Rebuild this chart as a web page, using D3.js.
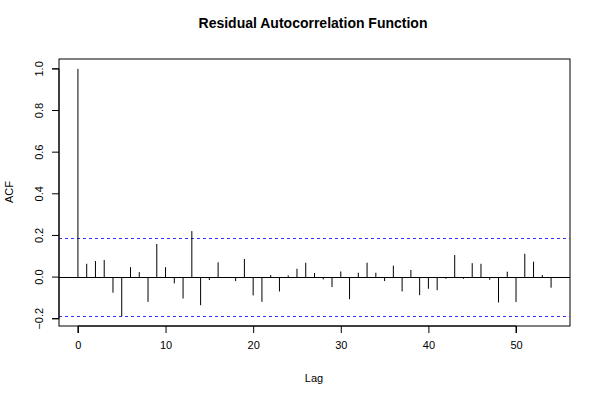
<!DOCTYPE html>
<html><head><meta charset="utf-8">
<script src="https://cdn.jsdelivr.net/npm/d3@7"></script>
<style>body{margin:0;background:#fff}svg{display:block}text{font-family:"Liberation Sans",Arial,sans-serif}</style>
</head><body>
<svg id="c" width="600" height="400"></svg>
<script>
const lags = d3.range(0, 55);
const acf = [1.000, 0.064, 0.077, 0.082, -0.075, -0.188, 0.048, 0.024, -0.119, 0.159,
  0.048, -0.030, -0.103, 0.221, -0.135, -0.014, 0.071, -0.002, -0.019, 0.087,
  -0.088, -0.119, 0.010, -0.069, 0.008, 0.040, 0.069, 0.019, -0.011, -0.048,
  0.027, -0.106, 0.021, 0.069, 0.021, -0.019, 0.055, -0.069, 0.034, -0.087,
  -0.056, -0.063, -0.008, 0.106, -0.008, 0.067, 0.064, -0.013, -0.122, 0.026,
  -0.120, 0.112, 0.074, 0.010, -0.051];
const confLimit = 0.188;
const xTicks = [0, 10, 20, 30, 40, 50];
const yTicks = [-0.2, 0.0, 0.2, 0.4, 0.6, 0.8, 1.0];
const title = "Residual Autocorrelation Function";

const svg = d3.select("#c");
const L = 59, R = 570, T = 59, B = 326;
const x = d3.scaleLinear().domain([-2.16, 56.16]).range([L, R]);
const y = d3.scaleLinear().domain([-0.2349, 1.0475]).range([B, T]);

svg.append("rect").attr("x", L).attr("y", T).attr("width", R - L).attr("height", B - T)
  .attr("fill", "none").attr("stroke", "#000").attr("stroke-width", 1);

svg.append("line").attr("x1", L).attr("x2", R).attr("y1", Math.round(y(0)) + 0.5).attr("y2", Math.round(y(0)) + 0.5)
  .attr("stroke", "#000");

[confLimit, -confLimit].forEach(v => {
  svg.append("line").attr("x1", L).attr("x2", R).attr("y1", Math.round(y(v)) + 0.5).attr("y2", Math.round(y(v)) + 0.5)
    .attr("stroke", "#3333ff").attr("stroke-dasharray", "3,3");
});

svg.append("g").selectAll("line").data(lags).join("line")
  .attr("x1", d => x(d)).attr("x2", d => x(d))
  .attr("y1", y(0)).attr("y2", (d, i) => y(acf[i]))
  .attr("stroke", "#000").attr("stroke-width", 1);

const xa = svg.append("g").attr("transform", `translate(0,${B})`)
  .call(d3.axisBottom(x).tickValues(xTicks).tickSize(7).tickPadding(8).tickFormat(d3.format("d")));
xa.select(".domain").attr("d", `M${x(0)},7V0H${x(50)}V7`);
xa.selectAll("text").attr("font-size", 11).attr("font-family", "Liberation Sans, Arial, sans-serif");

const ya = svg.append("g").attr("transform", `translate(${L},0)`)
  .call(d3.axisLeft(y).tickValues(yTicks).tickSize(7).tickFormat(d3.format(".1f")));
ya.select(".domain").attr("d", `M-7,${y(-0.2)}H0V${y(1)}H-7`);
ya.selectAll("text").attr("font-size", 11).attr("font-family", "Liberation Sans, Arial, sans-serif")
  .attr("text-anchor", "middle").attr("dy", null)
  .attr("transform", d => `translate(-19,${y(d)}) rotate(-90)`).attr("x", 0).attr("y", 0)
  .attr("dominant-baseline", "middle");
ya.selectAll(".tick").attr("transform", null);
ya.selectAll(".tick line").attr("y1", d => y(d)).attr("y2", d => y(d));

svg.append("text").attr("x", 313).attr("y", 28).attr("text-anchor", "middle")
  .attr("font-size", 14).attr("font-weight", "bold").text(title);
svg.append("text").attr("x", 314).attr("y", 382).attr("text-anchor", "middle")
  .attr("font-size", 11).text("Lag");
svg.append("text").attr("transform", "translate(13,192) rotate(-90)").attr("text-anchor", "middle")
  .attr("font-size", 11).text("ACF");
</script>
</body></html>
